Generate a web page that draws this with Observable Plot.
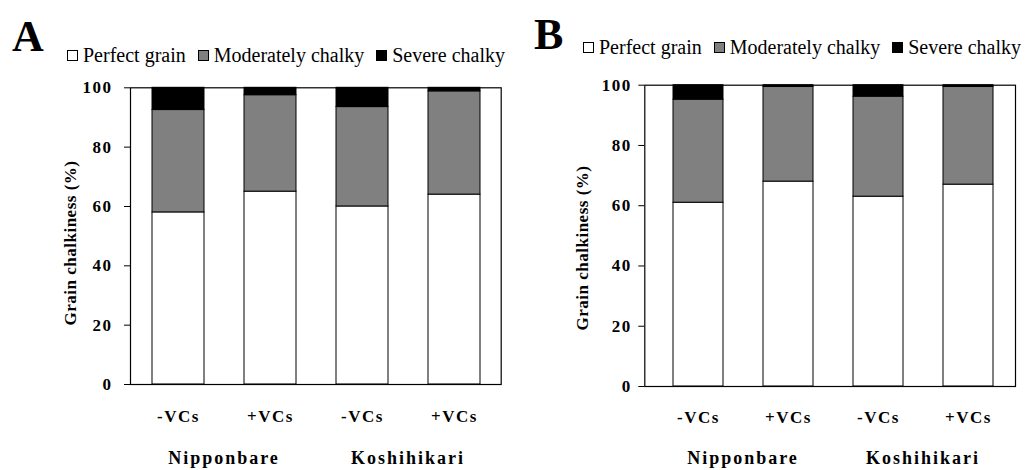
<!DOCTYPE html>
<html><head><meta charset="utf-8">
<script src="https://cdn.jsdelivr.net/npm/d3@7"></script>
<script src="https://cdn.jsdelivr.net/npm/@observablehq/plot@0.6"></script>
<style>
body{margin:0;background:#fff;}
#wrap{position:relative;width:1027px;height:470px;overflow:hidden;font-family:"Liberation Serif","Times New Roman","DejaVu Serif",serif;color:#000;}
.panel{position:absolute;top:0;height:470px;}
.title{position:absolute;font-weight:bold;font-size:44px;line-height:44px;}
.legend{position:absolute;display:flex;align-items:center;font-size:20px;line-height:20px;white-space:nowrap;}
.sw{display:inline-block;width:11px;height:11px;border:1px solid #000;box-sizing:border-box;margin-right:5px;}
.item{display:flex;align-items:center;margin-right:12px;}
.group{position:absolute;font-weight:bold;font-size:18px;line-height:18px;letter-spacing:2px;white-space:nowrap;transform:translate(-50%,-50%);}
.ylab{position:absolute;font-weight:bold;font-size:17px;line-height:17px;letter-spacing:0.5px;white-space:nowrap;transform:translate(-50%,-50%) rotate(-90deg);}
</style></head>
<body><div id="wrap"></div>
<script>
const varieties = ["Nipponbare", "Koshihikari"];
const treatments = ["-VCs", "+VCs"];
const categories = ["Perfect grain", "Moderately chalky", "Severe chalky"];
const colors = ["#ffffff", "#808080", "#000000"];
const yTicks = [0, 20, 40, 60, 80, 100];
const yLabel = "Grain chalkiness (%)";
// Panel A
const perfectA = [58, 65, 60, 64];
const moderateA = [34.5, 32.5, 33.5, 34.8];
const severeA = [7.5, 2.5, 6.5, 1.2];
// Panel B
const perfectB = [61, 68, 63, 67];
const moderateB = [34.2, 31.4, 33.2, 32.4];
const severeB = [4.8, 0.6, 3.8, 0.6];

const FONT = "'Liberation Serif', 'Times New Roman', 'DejaVu Serif', serif";
const wrap = document.getElementById("wrap");

function makePanel(cfg) {
  const keys = [];
  varieties.forEach(v => treatments.forEach(t => keys.push(v + "|" + t)));
  const series = [cfg.perfect, cfg.moderate, cfg.severe];
  const rows = [];
  keys.forEach((k, i) => categories.forEach((c, j) => rows.push({key: k, cat: c, value: series[j][i]})));

  const div = document.createElement("div");
  div.className = "panel";
  div.style.left = cfg.left + "px";
  div.style.width = cfg.width + "px";
  wrap.appendChild(div);

  const plot = Plot.plot({
    width: cfg.width,
    height: 470,
    marginLeft: cfg.ml, marginRight: cfg.mr, marginTop: cfg.mt, marginBottom: cfg.mb,
    style: {fontFamily: FONT, fontSize: "17px", fontWeight: "bold", color: "#000", background: "transparent", letterSpacing: "1.5px", overflow: "visible"},
    x: {domain: keys, paddingInner: 0.44, paddingOuter: cfg.po, align: cfg.align, tickFormat: k => k.split("|")[1], tickSize: 0, tickPadding: cfg.xpad, label: null},
    y: {domain: [0, 100], ticks: yTicks, tickSize: 6, tickPadding: cfg.ypad, label: null},
    color: {domain: categories, range: colors},
    marks: [
      Plot.barY(rows, Plot.stackY({x: "key", y: "value", fill: "cat", order: categories, stroke: "#000", strokeWidth: 1})),
      Plot.frame({stroke: "#000", strokeWidth: 1.2})
    ]
  });
  plot.style.position = "absolute";
  plot.style.left = "0px";
  plot.style.top = "0px";
  plot.querySelectorAll("text").forEach(n => n.setAttribute("font-family", FONT));
  div.appendChild(plot);

  const t = document.createElement("div");
  t.className = "title";
  t.textContent = cfg.title;
  t.style.left = cfg.titleX + "px";
  t.style.top = cfg.titleY + "px";
  div.appendChild(t);

  const lg = document.createElement("div");
  lg.className = "legend";
  lg.style.left = cfg.legX + "px";
  lg.style.top = (cfg.legY - 10) + "px";
  categories.forEach((c, i) => {
    const it = document.createElement("span");
    it.className = "item";
    const sw = document.createElement("span");
    sw.className = "sw";
    sw.style.background = colors[i];
    it.appendChild(sw);
    it.appendChild(document.createTextNode(c));
    lg.appendChild(it);
  });
  div.appendChild(lg);

  const yl = document.createElement("div");
  yl.className = "ylab";
  yl.textContent = yLabel;
  yl.style.left = cfg.ylX + "px";
  yl.style.top = cfg.ylY + "px";
  div.appendChild(yl);

  const xs = plot.scale("x");
  varieties.forEach(v => {
    const a = xs.apply(v + "|" + treatments[0]);
    const b = xs.apply(v + "|" + treatments[1]) + xs.bandwidth;
    const g = document.createElement("div");
    g.className = "group";
    g.textContent = v;
    g.style.left = ((a + b) / 2) + "px";
    g.style.top = cfg.groupY + "px";
    div.appendChild(g);
  });
}

makePanel({
  title: "A", left: 0, width: 520, ml: 130, mr: 19.3, mt: 87.3, mb: 86,
  po: 0.22, align: 0.5, xpad: 25.5, ypad: 12,
  perfect: perfectA, moderate: moderateA, severe: severeA,
  titleX: 12, titleY: 15, legX: 67, legY: 55, ylX: 70, ylY: 243, groupY: 458
});
makePanel({
  title: "B", left: 520, width: 507, ml: 124.3, mr: 12, mt: 84.7, mb: 84,
  po: 0.26, align: 0.57, xpad: 24, ypad: 7,
  perfect: perfectB, moderate: moderateB, severe: severeB,
  titleX: 14, titleY: 13, legX: 63, legY: 47, ylX: 62, ylY: 248, groupY: 458
});
</script>
</body></html>
